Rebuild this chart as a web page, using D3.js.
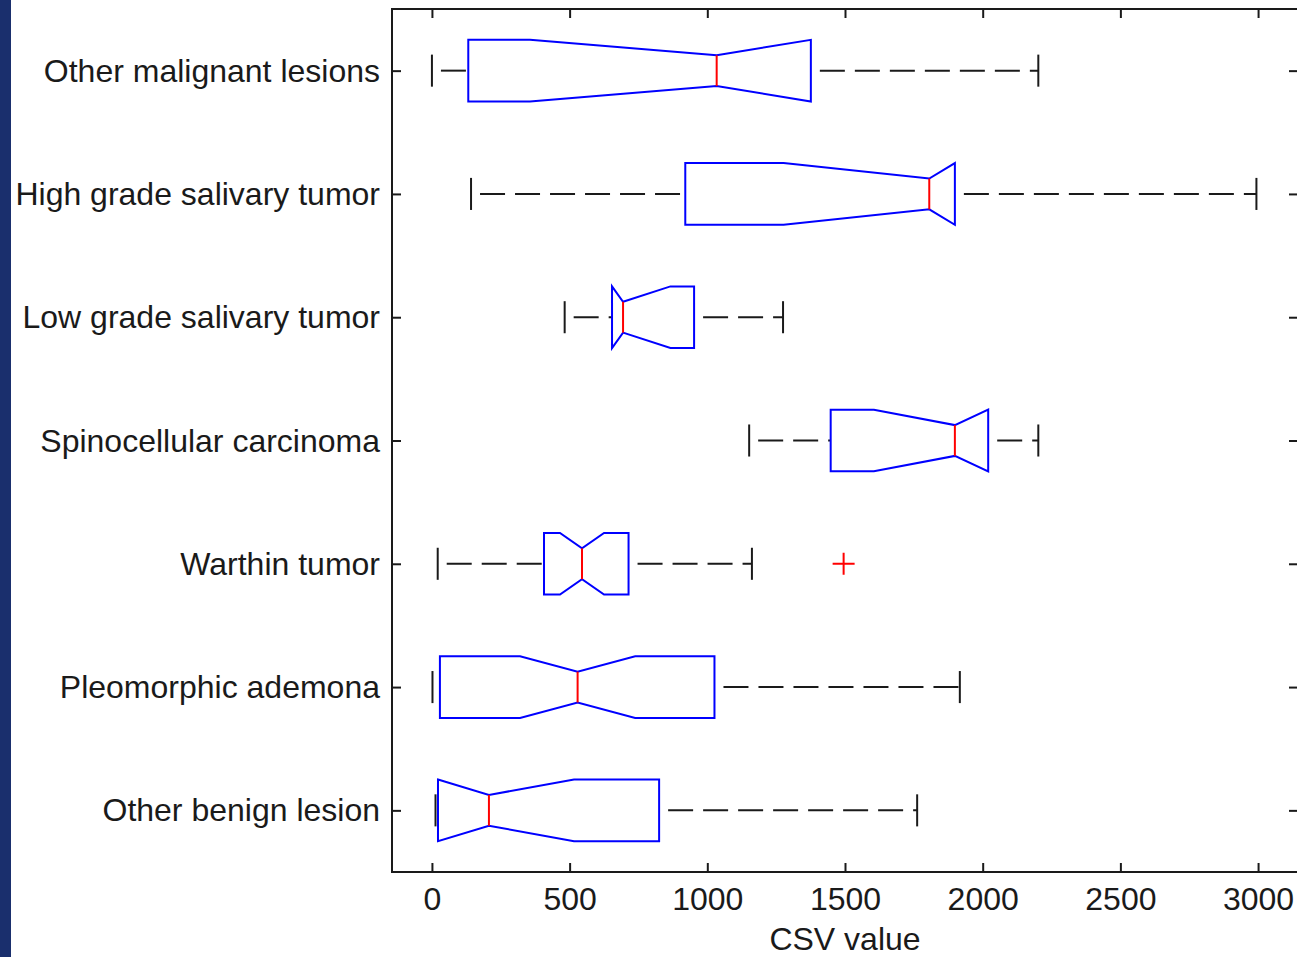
<!DOCTYPE html>
<html>
<head>
<meta charset="utf-8">
<script src="https://cdn.jsdelivr.net/npm/d3@7/dist/d3.min.js"></script>
<style>
  html, body { margin: 0; padding: 0; background: #fff; }
  svg { display: block; }
  text { font-family: "Liberation Sans", Arial, sans-serif; fill: #1a1a1a; }
</style>
</head>
<body>
<div id="chart"></div>
<script>
// groups, top to bottom
const categories = [
  'Other malignant lesions',
  'High grade salivary tumor',
  'Low grade salivary tumor',
  'Spinocellular carcinoma',
  'Warthin tumor',
  'Pleomorphic ademona',
  'Other benign lesion'
];
const lowerWhisker = [0, 142, 482, 1152, 21, 2, 13];
const q1Values     = [132, 920, 654, 1448, 407, 29, 22];
const medians      = [1034, 1806, 694, 1899, 545, 529, 207];
const q3Values     = [1376, 1899, 952, 2020, 714, 1026, 825];
const upperWhisker = [2202, 2994, 1275, 2202, 1162, 1917, 1762];
const notchHalf    = [678, 529, 172, 294, 80, 209, 309];
const outlierGroups = ['Warthin tumor'];
const outlierValues = [1495];
const xTicks = [0, 500, 1000, 1500, 2000, 2500, 3000];

const width = 1297;
const height = 957;
const margin = { left: 392, top: 9, right: 1298, bottom: 872 };

const svg = d3.select('#chart')
  .append('svg')
  .attr('width', width)
  .attr('height', height);

// navy strip on the left
svg.append('rect')
  .attr('x', 0).attr('y', 0)
  .attr('width', 11).attr('height', height)
  .attr('fill', '#1a2f6d');

const x = d3.scaleLinear().domain([-145, 3145]).range([margin.left, margin.right]);
// MATLAB puts group 1 at the bottom, so last category -> position 1
const y = d3.scaleLinear().domain([0.5, categories.length + 0.5]).range([margin.bottom, margin.top]);
const pos = i => categories.length - i;

const boxHalf = 0.25;   // in group units
const capHalf = 0.13;
const notchDepth = 0.5; // fraction of box half-height kept at the median

const plot = svg.append('g');

// axes box
plot.append('rect')
  .attr('x', margin.left)
  .attr('y', margin.top)
  .attr('width', margin.right - margin.left)
  .attr('height', margin.bottom - margin.top)
  .attr('fill', 'none')
  .attr('stroke', '#1a1a1a')
  .attr('stroke-width', 2);

// x ticks (inward, top and bottom)
const tickLen = 9;
const xAxisBottom = d3.axisBottom(x).tickValues(xTicks).tickSizeInner(-tickLen).tickSizeOuter(0)
  .tickPadding(38).tickFormat(d3.format('d'));
const gx = plot.append('g').attr('transform', `translate(0,${margin.bottom})`).call(xAxisBottom);
gx.select('.domain').remove();
gx.selectAll('line').attr('stroke', '#1a1a1a').attr('stroke-width', 2);
gx.selectAll('text').attr('dy', 0).style('font-size', '32px').attr('fill', '#1a1a1a');

const xAxisTop = d3.axisTop(x).tickValues(xTicks).tickSizeInner(-tickLen).tickSizeOuter(0).tickFormat('');
const gxt = plot.append('g').attr('transform', `translate(0,${margin.top})`).call(xAxisTop);
gxt.select('.domain').remove();
gxt.selectAll('line').attr('stroke', '#1a1a1a').attr('stroke-width', 2);

// y ticks (inward, left and right) with group labels
const yTickVals = categories.map((c, i) => pos(i));
const yAxisLeft = d3.axisLeft(y).tickValues(yTickVals).tickSizeInner(-tickLen).tickSizeOuter(0)
  .tickPadding(12)
  .tickFormat(v => categories[categories.length - v]);
const gy = plot.append('g').attr('transform', `translate(${margin.left},0)`).call(yAxisLeft);
gy.select('.domain').remove();
gy.selectAll('line').attr('stroke', '#1a1a1a').attr('stroke-width', 2);
gy.selectAll('text').attr('dy', '0.33em').style('font-size', '32px').attr('fill', '#1a1a1a');

const yAxisRight = d3.axisRight(y).tickValues(yTickVals).tickSizeInner(-tickLen).tickSizeOuter(0).tickFormat('');
const gyr = plot.append('g').attr('transform', `translate(${margin.right},0)`).call(yAxisRight);
gyr.select('.domain').remove();
gyr.selectAll('line').attr('stroke', '#1a1a1a').attr('stroke-width', 2);

// x label
svg.append('text')
  .attr('x', (margin.left + margin.right) / 2)
  .attr('y', 950)
  .attr('text-anchor', 'middle')
  .style('font-size', '32px')
  .text('CSV value');

// boxes
categories.forEach((cat, i) => {
  const p = pos(i);
  const cy = y(p);
  const g = plot.append('g');

  // whiskers, dashed
  [[lowerWhisker[i], q1Values[i]], [q3Values[i], upperWhisker[i]]].forEach(([a, b]) => {
    g.append('line')
      .attr('x1', x(a)).attr('x2', x(b))
      .attr('y1', cy).attr('y2', cy)
      .attr('stroke', '#1a1a1a')
      .attr('stroke-width', 2)
      .attr('stroke-dasharray', '25,10')
      .attr('stroke-dashoffset', 26);
  });

  // whisker caps
  [lowerWhisker[i], upperWhisker[i]].forEach(v => {
    g.append('line')
      .attr('x1', x(v)).attr('x2', x(v))
      .attr('y1', y(p - capHalf)).attr('y2', y(p + capHalf))
      .attr('stroke', '#1a1a1a')
      .attr('stroke-width', 2);
  });

  // notched box outline
  const lo = Math.max(q1Values[i], medians[i] - notchHalf[i]);
  const hi = Math.min(q3Values[i], medians[i] + notchHalf[i]);
  const top = p + boxHalf, bot = p - boxHalf;
  const nTop = p + boxHalf * notchDepth, nBot = p - boxHalf * notchDepth;
  const pts = [
    [q1Values[i], top], [lo, top], [medians[i], nTop], [hi, top], [q3Values[i], top],
    [q3Values[i], bot], [hi, bot], [medians[i], nBot], [lo, bot], [q1Values[i], bot]
  ];
  g.append('path')
    .attr('d', d3.line().x(d => x(d[0])).y(d => y(d[1]))(pts) + 'Z')
    .attr('fill', 'none')
    .attr('stroke', '#0000ff')
    .attr('stroke-width', 2);

  // median
  g.append('line')
    .attr('x1', x(medians[i])).attr('x2', x(medians[i]))
    .attr('y1', y(nTop)).attr('y2', y(nBot))
    .attr('stroke', '#ff0000')
    .attr('stroke-width', 2);
});

// outliers as red +
outlierValues.forEach((v, k) => {
  const p = pos(categories.indexOf(outlierGroups[k]));
  const cx = x(v), cy = y(p);
  plot.append('path')
    .attr('d', `M${cx - 11},${cy}H${cx + 11}M${cx},${cy - 11}V${cy + 11}`)
    .attr('stroke', '#ff0000')
    .attr('stroke-width', 2)
    .attr('fill', 'none');
});
</script>
</body>
</html>
